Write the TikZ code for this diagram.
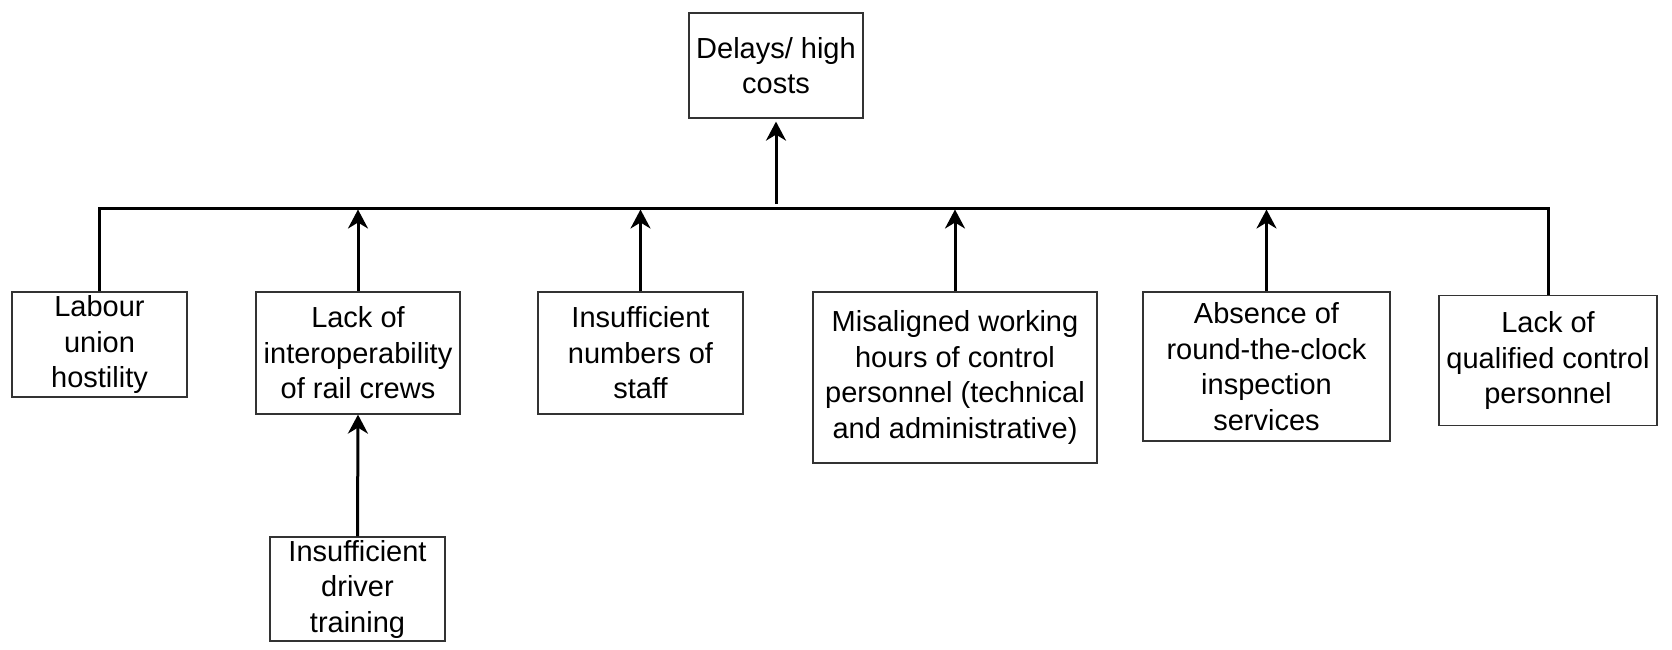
\documentclass[tikz,border=0pt]{standalone}
\usepackage{fontspec}
\setmainfont{Liberation Sans}
\usetikzlibrary{arrows.meta}
\tikzset{
  box/.style={draw=black!80, line width=0.6pt, align=center, inner sep=0pt,
    font=\fontsize{14.5}{17.75}\selectfont},
  arr/.style={-{Stealth[length=9.5pt,width=10pt,inset=3pt]}, line width=1.5pt},
  bus/.style={line width=1.5pt}
}
\begin{document}
\begin{tikzpicture}[x=0.5pt,y=-0.5pt]
\useasboundingbox (0,0) rectangle (1672,649);

\node[box, minimum width=87pt, minimum height=52.5pt] (cost) at (776,65.5) {Delays/ high\\costs};

\node[box, minimum width=87.5pt, minimum height=52.5pt] (labour) at (99.5,344.5) {Labour\\union\\hostility};
\node[box, minimum width=102pt, minimum height=61pt] (interop) at (358,353) {Lack of\\interoperability\\of rail crews};
\node[box, minimum width=102.5pt, minimum height=61pt] (staff) at (640.5,353) {Insufficient\\numbers of\\staff};
\node[box, minimum width=142pt, minimum height=85.5pt] (hours) at (955,377.5) {Misaligned working\\hours of control\\personnel (technical\\and administrative)};
\node[box, minimum width=123.5pt, minimum height=74.5pt] (inspect) at (1266.5,366.5) {Absence of\\round-the-clock\\inspection\\services};
\node[box, minimum width=109pt, minimum height=65pt] (qualif) at (1548,360.5) {Lack of\\qualified control\\personnel};
\node[box, minimum width=87.5pt, minimum height=52pt] (training) at (357.5,589) {Insufficient\\driver\\training};

% common line
\coordinate (busL) at (99.5,208);
\coordinate (busR) at (1548,208);
\coordinate (hub) at (776,204);
\coordinate (busend) at (0,209.5);
\draw[bus] (labour.north) -- (busL) -- (busR) -- (qualif.north);
\draw[arr, shorten >=1.5pt] (hub) -- (cost.south);

\draw[arr] (interop.north) -- (interop.north |- busend);
\draw[arr] (staff.north) -- (staff.north |- busend);
\draw[arr] (hours.north) -- (hours.north |- busend);
\draw[arr] (inspect.north) -- (inspect.north |- busend);

\draw[arr] (training.north) -- (interop.south);

\end{tikzpicture}
\end{document}
